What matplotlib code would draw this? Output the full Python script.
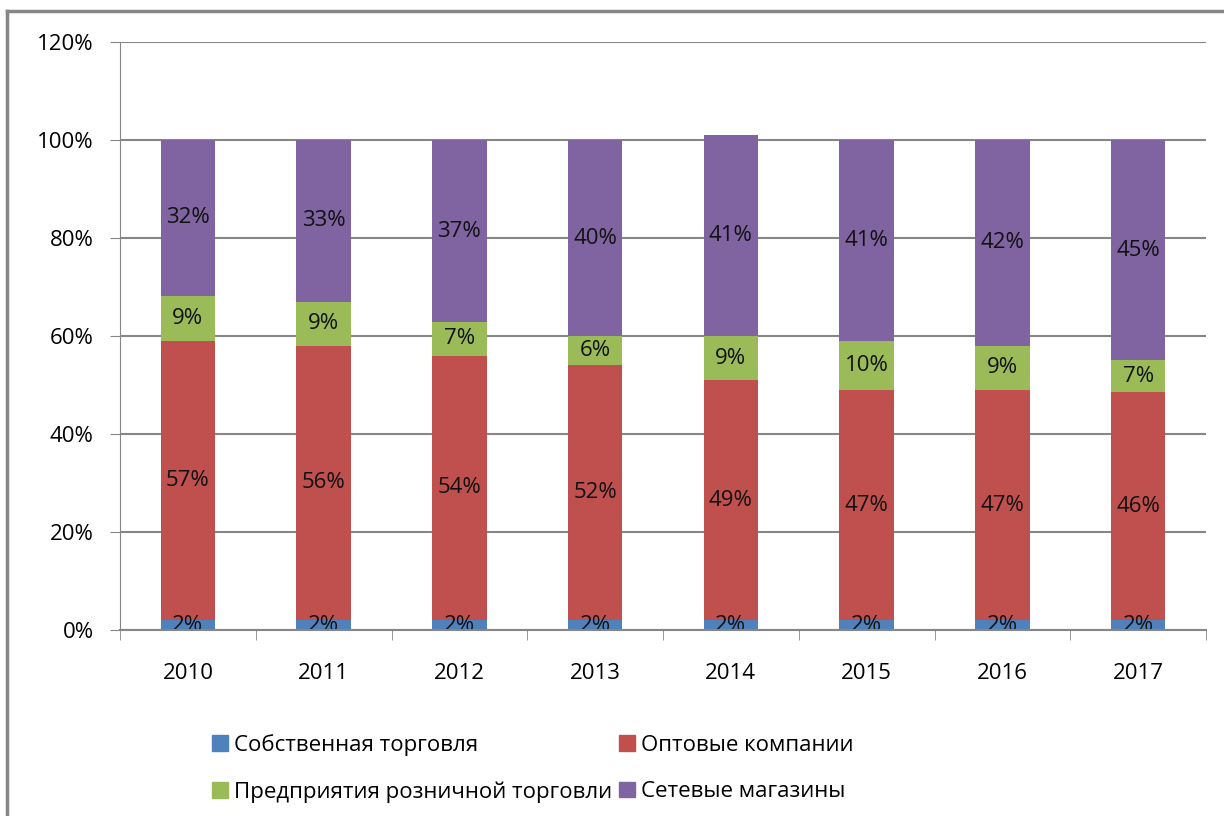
import numpy as np
import matplotlib.pyplot as plt
from matplotlib.patches import Patch

plt.rcParams['font.family'] = ['Open Sans', 'DejaVu Sans']

years = ['2010', '2011', '2012', '2013', '2014', '2015', '2016', '2017']
own = [2.0, 2.0, 2.0, 2.0, 2.0, 2.0, 2.0, 2.0]
wholesale = [57.0, 56.0, 54.0, 52.0, 49.0, 47.0, 47.0, 46.5]
retail = [9.2, 9.0, 6.8, 6.0, 9.0, 10.0, 9.0, 6.6]
chains = [31.8, 33.0, 37.2, 40.0, 41.0, 41.0, 42.0, 44.9]
own_lbl = ['2%'] * 8
wholesale_lbl = ['57%', '56%', '54%', '52%', '49%', '47%', '47%', '46%']
retail_lbl = ['9%', '9%', '7%', '6%', '9%', '10%', '9%', '7%']
chains_lbl = ['32%', '33%', '37%', '40%', '41%', '41%', '42%', '45%']

names = ['Собственная торговля', 'Оптовые компании',
         'Предприятия розничной торговли', 'Сетевые магазины']
colors = ['#4F81BD', '#C0504D', '#9BBB59', '#8064A2']

fs = 16

fig = plt.figure(figsize=(12.24, 8.16), dpi=100)
ax = fig.add_axes([120/1224, 1 - 630/816, 1086/1224, 588/816])

x = np.arange(len(years))
series = [own, wholesale, retail, chains]
labels = [own_lbl, wholesale_lbl, retail_lbl, chains_lbl]
bottom = np.zeros(len(years))
for vals, lbls, c in zip(series, labels, colors):
    vals = np.array(vals)
    ax.bar(x, vals, 0.4, bottom=bottom, color=c, zorder=3)
    for xi, b, v, t in zip(x, bottom, vals, lbls):
        ax.text(xi, b + v / 2, t, ha='center', va='center', fontsize=fs,
                color='#111111', zorder=4)
    bottom += vals

ax.set_xlim(-0.5, len(years) - 0.5)
ax.set_ylim(0, 120)
ax.set_yticks(np.arange(0, 121, 20))
ax.set_yticklabels([f'{v}%' for v in range(0, 121, 20)])
ax.set_xticks(x)
ax.set_xticklabels(years)
ax.set_xticks(np.arange(-0.5, len(years)), minor=True)
ax.tick_params(axis='x', which='major', length=0, pad=24, labelsize=fs)
ax.tick_params(axis='x', which='minor', length=7, color='#868686', direction='out')
ax.tick_params(axis='y', length=7, color='#868686', labelsize=fs, pad=12)
ax.grid(axis='y', color='#868686', linewidth=1.5, zorder=0)
for s in ['top', 'right']:
    ax.spines[s].set_visible(False)
ax.spines['left'].set_color('#868686')
ax.spines['bottom'].set_color('#868686')
ax.spines['bottom'].set_linewidth(1.5)
ax.spines['bottom'].set_zorder(5)

handles = [Patch(color=colors[i]) for i in [0, 2, 1, 3]]
leg_names = [names[i] for i in [0, 2, 1, 3]]
fig.legend(handles, leg_names, ncol=2, loc='upper left',
           bbox_to_anchor=(192/1224, 1 - 714/816), frameon=False,
           fontsize=fs, handlelength=0.7, handleheight=0.7,
           handletextpad=0.3, columnspacing=0.3, labelspacing=1.15)

# chart frame
fig.add_artist(plt.Line2D([7/1224, 7/1224], [0, 1 - 11/816],
                          transform=fig.transFigure, color='#868686', lw=2.5))
fig.add_artist(plt.Line2D([7/1224, 1], [1 - 11/816, 1 - 11/816],
                          transform=fig.transFigure, color='#868686', lw=2.5))

fig.savefig('out.png', dpi=100)
